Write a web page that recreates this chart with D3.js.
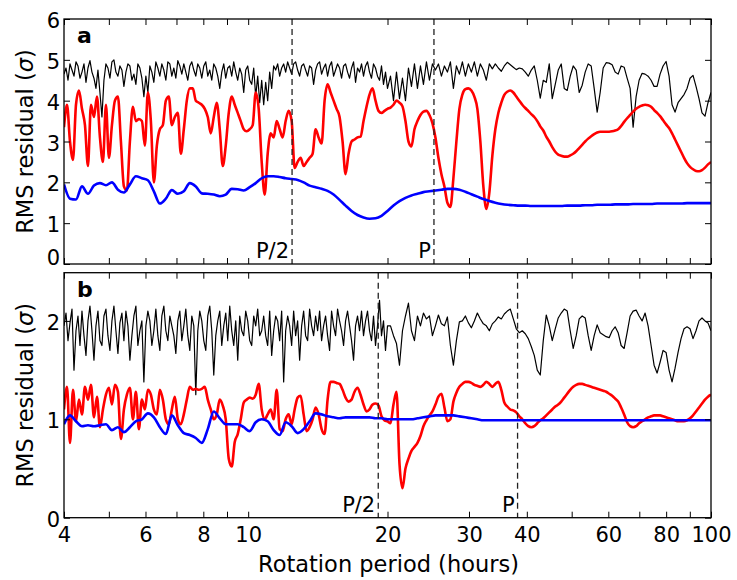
<!DOCTYPE html>
<html>
<head>
<meta charset="utf-8">
<script src="https://cdn.jsdelivr.net/npm/d3@7"></script>
<style>
  body { margin: 0; background: #fff; }
  svg text { font-family: "DejaVu Sans", sans-serif; }
</style>
</head>
<body>
<div id="chart"></div>
<script>
// x axis (rotation period, hours, log scale)
const periodTicks = [4, 6, 8, 10, 20, 30, 40, 60, 80, 100];
const minorTicks = [5, 7, 9, 50, 70, 90];
const yTicksA = [0, 1, 2, 3, 4, 5, 6];
const yTicksB = [0, 1, 2];

// panel a, black: 4-20 h (dense), then 20-100 h
const blackA1 = [
  4.65,4.8,4.5,4.9,4.75,4.6,4.95,4.85,4.55,4.7,
  4.9,4.45,4.8,4.98,4.7,4.55,4.3,4.75,4.2,3.6,
  4.5,4.9,4.8,4.55,4.95,5.0,4.7,4.6,4.85,4.75,
  4.35,4.7,4.9,4.85,4.5,4.65,4.4,4.9,4.8,4.55,
  4.1,4.6,4.2,4.85,4.7,4.45,4.95,4.8,4.6,4.9,
  4.75,4.5,4.95,4.9,4.6,4.8,4.55,4.98,4.85,4.65,
  4.9,4.7,4.5,4.85,4.95,4.75,4.6,4.9,4.8,4.55,
  4.85,4.95,4.6,4.75,4.5,4.9,4.8,4.6,4.3,4.7,
  4.9,4.55,4.8,4.85,4.6,4.95,4.7,4.5,4.8,4.65,
  4.2,4.75,4.85,4.5,4.4,4.8,4.1,4.6,3.95,4.5,
  3.9,4.45,4.0,4.7,4.3,4.85,4.75,4.9,4.6,4.8,
  4.9,4.7,4.95,4.8,4.65,4.9,4.95,4.75,4.6,4.85,
  4.9,4.75,4.6,4.85,4.8,4.4,4.75,4.9,4.95,4.65,
  4.8,4.9,4.6,4.85,4.95,4.6,4.75,4.9,4.8,4.55,
  4.85,4.9,4.7,4.55,4.8,4.95,4.45,4.8,4.7,4.9,
  4.6,4.85,4.95,4.7,4.55,4.9,4.8,4.6,4.5,4.85,
  4.4,4.7,4.3
];
const blackA2 = [
  4.6,4.0,4.7,4.05,4.55,4.0,4.8,4.35,4.9,4.3,
  4.85,4.4,4.95,4.5,4.9,4.75,4.9,4.6,4.85,4.7,
  4.95,4.3,4.85,4.65,4.95,4.6,4.9,4.7,4.95,4.6,
  4.9,4.75,4.5,4.9,4.78,4.9,4.8,4.72,4.85,4.94,
  4.88,4.82,4.76,4.8,4.78,4.7,4.6,4.75,4.85,4.5,
  4.06,4.5,4.45,4.9,4.05,4.4,4.75,4.9,4.3,4.25,
  4.6,4.85,4.75,4.2,4.38,4.7,4.9,4.85,4.3,3.72,
  4.2,4.8,4.93,4.92,4.88,4.7,4.65,4.85,4.82,4.55,
  4.3,3.35,4.1,4.5,4.67,4.65,4.6,4.5,4.35,4.35,
  4.65,4.85,4.96,4.6,3.9,3.72,3.95,4.05,4.15,4.3,
  4.55,4.62,4.35,4.05,3.7,3.62,3.95,4.2
];
const redA = [
  3.35,3.9,3.0,2.55,3.9,4.25,3.8,3.4,2.4,3.9,
  3.6,4.1,3.1,2.5,3.9,2.6,3.4,4.0,4.1,3.0,
  1.9,1.8,3.0,3.85,3.5,3.55,3.5,2.9,4.2,3.5,
  2.0,2.9,3.3,3.4,4.0,4.1,3.4,3.6,3.7,2.7,
  3.3,4.0,4.3,4.3,4.0,3.95,3.9,3.8,3.6,3.2,
  3.6,3.95,3.3,2.4,2.9,3.7,4.1,3.9,3.7,3.5,
  3.3,3.25,3.3,3.4,4.2,3.8,2.5,1.7,2.7,3.2,
  3.1,3.5,3.3,3.1,3.5,3.75,3.5,2.35,2.5,2.6,
  2.4,2.5,2.6,2.7,3.3,3.1,2.95,4.0,4.4,4.2,
  4.0,3.8,3.6,3.0,2.2,2.7,3.0,3.05,3.1,3.12,
  3.5,3.85,4.15,4.3,4.0,3.75,3.7,3.75,3.8,3.83,
  3.9,4.0,3.95,3.86,3.5,3.0,2.88,3.3,3.5,3.65,
  3.73,3.75,3.65,3.45,3.1,2.6,2.2,1.9,1.5,1.4,
  2.1,3.0,3.8,4.15,4.28,4.3,4.25,4.1,3.8,3.0,
  1.9,1.35,1.75,2.65,3.3,3.7,3.95,4.14,4.22,4.25,
  4.2,4.1,4.0,3.9,3.82,3.75,3.67,3.6,3.5,3.37,
  3.27,3.12,3.0,2.86,2.75,2.68,2.65,2.63,2.63,2.66,
  2.7,2.76,2.84,2.92,3.0,3.07,3.13,3.18,3.22,3.24,
  3.24,3.24,3.24,3.25,3.27,3.3,3.38,3.48,3.57,3.65,
  3.73,3.8,3.85,3.88,3.9,3.89,3.85,3.77,3.7,3.62,
  3.52,3.42,3.33,3.2,3.05,2.9,2.75,2.6,2.47,2.38,
  2.32,2.28,2.27,2.3,2.36,2.44,2.5
];
const blueA = [
  1.95,1.6,1.58,1.9,1.72,1.92,1.98,1.93,2.0,1.82,
  1.75,1.95,2.15,2.1,2.05,1.78,1.48,1.6,1.81,1.72,
  1.78,1.98,1.9,1.73,1.72,1.7,1.66,1.7,1.84,1.83,
  1.8,1.88,1.98,2.1,2.15,2.15,2.13,2.1,2.08,2.06,
  2.0,1.92,1.88,1.84,1.79,1.7,1.57,1.43,1.3,1.2,
  1.14,1.11,1.12,1.18,1.3,1.43,1.54,1.62,1.68,1.72,
  1.76,1.78,1.8,1.82,1.84,1.84,1.82,1.77,1.71,1.65,
  1.59,1.54,1.5,1.47,1.45,1.44,1.43,1.43,1.42,1.42,
  1.42,1.42,1.42,1.42,1.43,1.43,1.43,1.44,1.44,1.45,
  1.45,1.45,1.46,1.46,1.46,1.47,1.47,1.47,1.47,1.48,
  1.48,1.48,1.48,1.48,1.49,1.49,1.49,1.49,1.49
];
const markerPeriodsA = [12.44, 25.2];

// panel b
const blackB1 = [
  1.95,2.08,1.8,1.98,2.12,1.5,1.9,2.05,1.75,2.1,
  1.85,1.65,2.0,2.15,1.9,1.6,1.95,2.1,1.8,1.75,
  2.05,2.12,1.85,1.7,2.0,2.15,1.9,1.67,1.98,2.08,
  1.8,2.1,1.95,1.6,1.85,2.05,2.15,1.75,1.9,2.0,
  1.38,1.95,2.1,2.0,1.75,1.9,2.12,1.85,1.7,2.05,
  2.15,1.9,1.8,2.05,1.95,1.85,1.67,2.0,2.1,1.8,
  1.95,2.12,1.85,1.7,2.05,1.95,1.25,1.9,2.1,2.0,
  1.8,1.7,2.05,2.15,1.9,1.45,1.85,2.0,2.1,1.75,
  1.95,2.08,1.8,2.15,1.9,1.75,2.0,1.6,2.05,1.9,
  1.85,2.1,2.0,1.8,1.75,2.05,1.95,2.12,1.85,1.9,
  2.05,1.85,1.75,2.1,1.65,1.9,2.05,2.0,1.8,2.1,
  1.38,1.9,2.05,1.95,1.75,2.1,1.85,2.0,1.6,1.95,
  2.1,1.85,1.8,2.12,1.95,1.85,2.05,1.9,2.1,1.8,
  1.95,2.05,1.85,1.7,2.1,1.95,1.85,2.12,2.0,1.9,
  1.75,2.0,2.1,1.95,1.8,1.6,1.95,2.05,1.9,2.1,
  1.85,2.0,2.1,1.9,1.8,2.05,1.75,1.95,2.21,1.85,
  2.0,1.7,1.95
];
const blackB2 = [
  1.95,1.85,1.77,1.55,1.9,2.05,2.18,1.9,1.8,2.05,
  1.95,2.08,2.02,2.05,1.85,1.95,2.06,1.97,1.95,2.04,
  1.75,1.55,1.8,1.99,2.0,2.05,1.98,1.93,2.0,2.08,
  2.02,1.97,1.95,1.9,1.97,2.0,2.04,2.02,2.07,2.1,
  2.12,2.02,1.92,1.88,1.9,1.87,1.82,1.74,1.65,1.5,
  1.45,1.8,2.06,1.95,1.8,1.92,2.03,2.08,2.12,2.1,
  1.9,1.72,1.85,2.02,2.05,2.03,1.85,1.7,1.85,1.96,
  1.88,1.86,1.84,1.83,1.9,1.94,1.88,1.75,1.72,1.88,
  2.05,2.1,2.11,2.05,2.0,2.08,1.95,1.75,1.55,1.47,
  1.58,1.7,1.68,1.5,1.38,1.52,1.68,1.82,1.92,1.94,
  1.92,1.82,1.9,2.0,2.03,2.0,1.98,1.9
];
const redB = [
  1.1,1.33,0.76,1.3,0.98,1.2,1.05,1.33,1.2,1.35,
  1.02,1.23,0.92,1.1,1.25,1.32,1.15,1.35,1.28,0.8,
  1.1,1.25,1.32,1.0,1.28,0.9,1.2,1.1,1.3,1.25,
  1.1,1.05,1.3,1.2,1.0,0.95,1.1,1.23,1.0,0.95,
  1.05,1.2,1.33,1.3,1.31,1.3,1.31,1.33,1.2,1.1,
  1.0,1.05,1.2,1.14,1.0,0.6,0.52,0.77,0.85,1.0,
  1.17,1.2,1.22,1.21,1.25,1.36,1.1,1.0,1.05,1.1,
  1.0,1.3,0.9,0.88,1.0,1.05,0.95,1.1,1.22,1.24,
  1.05,0.88,0.92,1.0,1.12,1.05,0.9,0.85,1.2,1.38,
  1.38,1.37,1.36,1.3,1.22,1.18,1.2,1.28,1.32,1.25,
  1.15,1.08,1.1,1.15,1.16,1.14,1.03,0.99,0.98,0.96,
  1.15,1.28,0.55,0.3,0.5,0.6,0.68,0.72,0.76,0.83,
  0.93,0.99,1.04,1.08,1.15,1.23,1.26,1.12,0.98,1.0,
  1.18,1.27,1.33,1.36,1.38,1.38,1.37,1.35,1.34,1.33,
  1.35,1.38,1.36,1.33,1.36,1.38,1.3,1.17,1.13,1.1,
  1.09,1.07,1.03,1.0,0.96,0.93,0.92,0.93,0.96,0.99,
  1.01,1.04,1.07,1.1,1.13,1.15,1.18,1.22,1.26,1.3,
  1.33,1.35,1.36,1.36,1.35,1.34,1.33,1.32,1.31,1.3,
  1.29,1.28,1.26,1.24,1.21,1.18,1.12,1.05,0.97,0.93,
  0.92,0.93,0.96,0.98,1.0,1.02,1.03,1.04,1.04,1.04,
  1.03,1.02,1.01,1.0,0.99,0.98,0.98,0.98,0.99,1.01,
  1.04,1.08,1.12,1.16,1.2,1.23,1.25
];
const blueB = [
  0.95,1.04,0.98,0.93,0.94,0.93,0.94,0.95,0.89,0.92,
  0.87,0.92,0.98,1.0,1.06,1.02,0.92,0.85,1.04,0.94,
  0.86,0.84,0.81,0.76,0.9,1.08,1.01,0.95,0.95,0.95,
  0.92,0.88,0.97,1.0,0.98,0.89,0.84,0.97,0.93,0.86,
  0.9,0.98,1.06,1.05,1.03,1.02,1.01,1.02,1.02,1.02,
  1.02,1.02,1.01,1.01,1.0,1.0,1.0,1.0,1.0,1.01,
  1.02,1.03,1.04,1.04,1.04,1.04,1.03,1.02,1.01,1.0,
  0.99,0.99,0.99,0.99,0.99,0.99,0.99,0.99,0.99,0.99,
  0.99,0.99,0.99,0.99,0.99,0.99,0.99,0.99,0.99,0.99,
  0.99,0.99,0.99,0.99,0.99,0.99,0.99,0.99,0.99,0.99,
  0.99,0.99,0.99,0.99,0.99,0.99,0.99,0.99,0.99
];
const markerPeriodsB = [19.1, 38.2];
const markerLabels = ['P/2', 'P'];

const config = { width: 737, height: 580, left: 64, right: 711, tick: 6 };

const logGrid = (lo, hi, n) => d3.range(n).map(i => lo * Math.pow(hi / lo, i / (n - 1)));
const toSeries = vals => logGrid(4, 100, vals.length).map((p, i) => [p, vals[i]]);
const toBlack = (seg1, seg2) => {
  const p1 = logGrid(4, 20, seg1.length).map((p, i) => [p, seg1[i]]);
  const p2 = logGrid(20, 100, seg2.length + 1).slice(1).map((p, i) => [p, seg2[i]]);
  return p1.concat(p2);
};

const panels = [
  { id: 'a', top: 19, bottom: 264, yMax: 6, yTicks: yTicksA,
    black: toBlack(blackA1, blackA2), red: toSeries(redA), blue: toSeries(blueA),
    markers: markerPeriodsA, showX: false },
  { id: 'b', top: 272.7, bottom: 517.7, yMax: 2.49, yTicks: yTicksB,
    black: toBlack(blackB1, blackB2), red: toSeries(redB), blue: toSeries(blueB),
    markers: markerPeriodsB, showX: true }
];

const svg = d3.select('#chart').append('svg')
  .attr('width', config.width)
  .attr('height', config.height);
svg.append('rect').attr('width', config.width).attr('height', config.height).attr('fill', '#fff');

const x = d3.scaleLog().domain([4, 100]).range([config.left, config.right]);
const allTicks = periodTicks.concat(minorTicks).sort((a, b) => a - b);

const styleAxis = g => {
  g.select('.domain').remove();
  g.selectAll('.tick line').attr('stroke', '#000').attr('stroke-width', 1);
  g.attr('font-family', '"DejaVu Sans", sans-serif').attr('font-size', 21);
  g.selectAll('.tick text').attr('fill', '#000');
};

panels.forEach(panel => {
  const y = d3.scaleLinear().domain([0, panel.yMax]).range([panel.bottom, panel.top]);
  const g = svg.append('g').attr('class', 'panel-' + panel.id);

  g.append('clipPath').attr('id', 'clip-' + panel.id)
    .append('rect')
    .attr('x', config.left).attr('y', panel.top)
    .attr('width', config.right - config.left).attr('height', panel.bottom - panel.top);

  const plot = g.append('g').attr('clip-path', 'url(#clip-' + panel.id + ')');

  const lineLin = d3.line().x(d => x(d[0])).y(d => y(d[1]));
  const lineSmooth = d3.line().x(d => x(d[0])).y(d => y(d[1])).curve(d3.curveMonotoneX);

  plot.append('path').datum(panel.black)
    .attr('d', lineLin).attr('fill', 'none')
    .attr('stroke', '#000').attr('stroke-width', 1.2).attr('stroke-linejoin', 'round');
  plot.append('path').datum(panel.red)
    .attr('d', lineSmooth).attr('fill', 'none')
    .attr('stroke', '#ff0000').attr('stroke-width', 2.6).attr('stroke-linejoin', 'round');
  plot.append('path').datum(panel.blue)
    .attr('d', lineSmooth).attr('fill', 'none')
    .attr('stroke', '#0000ff').attr('stroke-width', 2.6).attr('stroke-linejoin', 'round');

  // period markers
  panel.markers.forEach((p, i) => {
    g.append('line')
      .attr('x1', x(p)).attr('x2', x(p))
      .attr('y1', panel.top).attr('y2', panel.bottom)
      .attr('stroke', '#222').attr('stroke-width', 1.3)
      .attr('stroke-dasharray', '6,4');
    g.append('text')
      .attr('x', x(p) - 3).attr('y', panel.bottom - 6)
      .attr('text-anchor', 'end').attr('font-size', 21)
      .text(markerLabels[i]);
  });

  // axes, ticks pointing inward
  const bottomAxis = d3.axisBottom(x).tickValues(allTicks)
    .tickSize(-config.tick).tickPadding(9)
    .tickFormat(d => (panel.showX && periodTicks.includes(d) ? d : ''));
  g.append('g').attr('transform', 'translate(0,' + panel.bottom + ')').call(bottomAxis).call(styleAxis);

  const topAxis = d3.axisTop(x).tickValues(allTicks).tickSize(-config.tick).tickFormat('');
  g.append('g').attr('transform', 'translate(0,' + panel.top + ')').call(topAxis).call(styleAxis);

  const leftAxis = d3.axisLeft(y).tickValues(panel.yTicks).tickSize(-config.tick).tickPadding(4)
    .tickFormat(d3.format('d'));
  const la = g.append('g').attr('transform', 'translate(' + config.left + ',0)').call(leftAxis).call(styleAxis);
  la.selectAll('.tick text').attr('dy', '0.41em');
  if (panel.id === 'a') la.selectAll('.tick text').filter(d => d === 0).attr('y', -8);

  const rightAxis = d3.axisRight(y).tickValues(panel.yTicks).tickSize(-config.tick).tickFormat('');
  g.append('g').attr('transform', 'translate(' + config.right + ',0)').call(rightAxis).call(styleAxis);

  // frame
  g.append('rect')
    .attr('x', config.left).attr('y', panel.top)
    .attr('width', config.right - config.left).attr('height', panel.bottom - panel.top)
    .attr('fill', 'none').attr('stroke', '#000').attr('stroke-width', 1.3);

  // panel letter
  g.append('text')
    .attr('x', 77).attr('y', panel.top + 24)
    .attr('font-size', 22).attr('font-weight', 'bold')
    .text(panel.id);

  // y title
  const yt = g.append('text')
    .attr('transform', 'translate(33,' + (panel.top + panel.bottom) / 2 + ') rotate(-90)')
    .attr('text-anchor', 'middle').attr('font-size', 22.5);
  yt.append('tspan').text('RMS residual (');
  yt.append('tspan').attr('font-style', 'italic').text('σ');
  yt.append('tspan').text(')');
});

svg.append('text')
  .attr('x', (config.left + config.right) / 2 + 1).attr('y', 571.5)
  .attr('text-anchor', 'middle').attr('font-size', 22.5)
  .text('Rotation period (hours)');
</script>
</body>
</html>
